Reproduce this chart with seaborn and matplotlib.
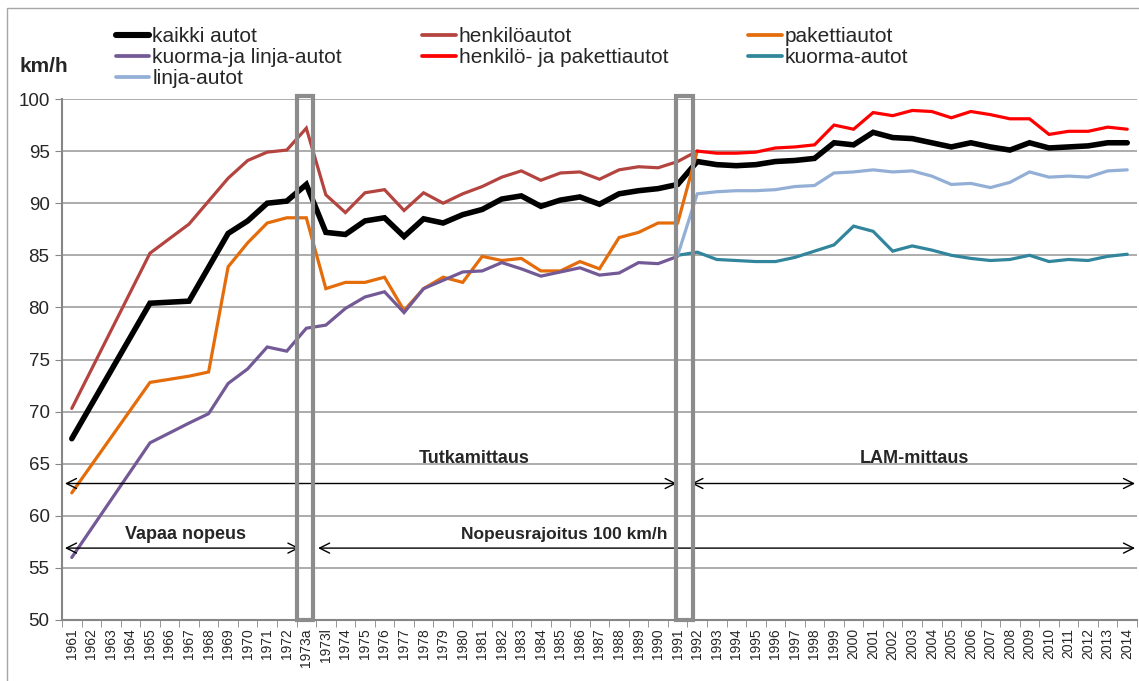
import numpy as np
import pandas as pd
import matplotlib
matplotlib.use("Agg")
import matplotlib.pyplot as plt
from matplotlib.patches import Rectangle
from matplotlib.lines import Line2D
import seaborn as sns

# category labels on the x axis (1973 split in two: a = before, l = after speed limit)
years = ([str(y) for y in range(1961, 1973)] + ['1973a', '1973l']
         + [str(y) for y in range(1974, 2015)])

# km/h, None = no value (line is drawn straight over the gap)
kaikki_autot = [67.4, None, None, None, 80.4, None, 80.6, None, 87.1, 88.3, 90.0, 90.2,
                91.8, 87.2, 87.0, 88.3, 88.6, 86.8, 88.5, 88.1, 88.9, 89.4, 90.4, 90.7,
                89.7, 90.3, 90.6, 89.9, 90.9, 91.2, 91.4, 91.8,
                94.0, 93.7, 93.6, 93.7, 94.0, 94.1, 94.3, 95.8, 95.6, 96.8, 96.3, 96.2,
                95.8, 95.4, 95.8, 95.4, 95.1, 95.8, 95.3, 95.4, 95.5, 95.8, 95.8]

henkiloautot = [70.3, None, None, None, 85.2, None, 88.0, None, 92.4, 94.1, 94.9, 95.1,
                97.2, 90.8, 89.1, 91.0, 91.3, 89.3, 91.0, 90.0, 90.9, 91.6, 92.5, 93.1,
                92.2, 92.9, 93.0, 92.3, 93.2, 93.5, 93.4, 94.0, 95.0] + [None] * 22

pakettiautot = [62.2, None, None, None, 72.8, None, 73.4, 73.8, 83.9, 86.2, 88.1, 88.6,
                88.6, 81.8, 82.4, 82.4, 82.9, 79.7, 81.8, 82.9, 82.4, 84.9, 84.5, 84.7,
                83.5, 83.5, 84.4, 83.7, 86.7, 87.2, 88.1, 88.1, 95.0] + [None] * 22

kuorma_ja_linja = [56.0, None, None, None, 67.0, None, 68.9, 69.8, 72.7, 74.1, 76.2, 75.8,
                   78.0, 78.3, 79.9, 81.0, 81.5, 79.5, 81.8, 82.6, 83.4, 83.5, 84.3, 83.7,
                   83.0, 83.4, 83.8, 83.1, 83.3, 84.3, 84.2, 84.9] + [None] * 23

henkilo_ja_paketti = [None] * 32 + [95.0, 94.8, 94.8, 94.9, 95.3, 95.4, 95.6, 97.5, 97.1,
                                    98.7, 98.4, 98.9, 98.8, 98.2, 98.8, 98.5, 98.1, 98.1,
                                    96.6, 96.9, 96.9, 97.3, 97.1]

kuorma_autot = [None] * 31 + [85.0, 85.3, 84.6, 84.5, 84.4, 84.4, 84.8, 85.4, 86.0, 87.8,
                              87.3, 85.4, 85.9, 85.5, 85.0, 84.7, 84.5, 84.6, 85.0, 84.4,
                              84.6, 84.5, 84.9, 85.1]

linja_autot = [None] * 31 + [85.0, 90.9, 91.1, 91.2, 91.2, 91.3, 91.6, 91.7, 92.9, 93.0,
                             93.2, 93.0, 93.1, 92.6, 91.8, 91.9, 91.5, 92.0, 93.0, 92.5,
                             92.6, 92.5, 93.1, 93.2]

series = {
    'kaikki autot': kaikki_autot,
    'henkilöautot': henkiloautot,
    'pakettiautot': pakettiautot,
    'kuorma-ja linja-autot': kuorma_ja_linja,
    'henkilö- ja pakettiautot': henkilo_ja_paketti,
    'kuorma-autot': kuorma_autot,
    'linja-autot': linja_autot,
}
colors = {
    'kaikki autot': '#000000',
    'henkilöautot': '#B4443F',
    'pakettiautot': '#E46C0A',
    'kuorma-ja linja-autot': '#735A96',
    'henkilö- ja pakettiautot': '#FF0000',
    'kuorma-autot': '#31859C',
    'linja-autot': '#93AFD6',
}
widths = {k: 2.3 for k in series}
widths['kaikki autot'] = 4.0

sns.set_style('white')
plt.rcParams['font.family'] = ['Liberation Sans', 'DejaVu Sans']

fig = plt.figure(figsize=(11.39, 6.81), dpi=100)
W, H = 1139, 681
ax = fig.add_axes([62 / W, 1 - 620 / H, (1137 - 62) / W, (620 - 99) / H])

pos = np.arange(len(years))
frames = []
for name, vals in series.items():
    frames.append(pd.DataFrame({'pos': pos, 'kmh': pd.to_numeric(pd.Series(vals), errors='coerce'),
                                'sarja': name}))
df = pd.concat(frames).dropna()

for name in series:
    sub = df[df['sarja'] == name]
    sns.lineplot(data=sub, x='pos', y='kmh', color=colors[name], lw=widths[name],
                 ax=ax, legend=False, solid_joinstyle='miter', zorder=3)

ax.set_xlim(-0.5, len(years) - 0.5)
ax.set_ylim(50, 100)
ax.set_yticks(np.arange(50, 101, 5))
ax.tick_params(axis='y', labelsize=13.5, length=5, color='#868686', direction='out', left=True, pad=4)
ax.set_xticks(pos)
ax.set_xticklabels(years, rotation=90, fontsize=10)
ax.tick_params(axis='x', which='major', length=0, pad=6)
ax.set_xticks(np.arange(-0.5, len(years), 1), minor=True)
ax.tick_params(axis='x', which='minor', length=5, color='#868686', bottom=True)
ax.set_xlabel('')
ax.set_ylabel('')
ax.yaxis.grid(True, color='#A6A6A6', lw=1.3)
ax.xaxis.grid(False)
for s in ['top', 'right']:
    ax.spines[s].set_visible(False)
for s in ['left', 'bottom']:
    ax.spines[s].set_color('#868686')
    ax.spines[s].set_linewidth(1.5)

# gray frames marking the breaks in measurement method
ax.add_patch(Rectangle((11.5, 50), 0.82, 50.3, fill=False, ec='#8C8C8C', lw=3,
                       zorder=5, clip_on=False))
ax.add_patch(Rectangle((30.9, 50), 0.88, 50.3, fill=False, ec='#8C8C8C', lw=3,
                       zorder=5, clip_on=False))

arr = dict(arrowstyle='<->', color='black', lw=1, mutation_scale=18, shrinkA=0, shrinkB=0)
ax.annotate('', xy=(-0.35, 63.1), xytext=(30.95, 63.1), arrowprops=arr)
ax.annotate('', xy=(31.7, 63.1), xytext=(54.4, 63.1), arrowprops=arr)
ax.annotate('', xy=(-0.35, 56.9), xytext=(11.65, 56.9), arrowprops=arr)
ax.annotate('', xy=(12.6, 56.9), xytext=(54.4, 56.9), arrowprops=arr)
ax.text(20.6, 65.5, 'Tutkamittaus', ha='center', va='center', fontsize=13, fontweight='bold')
ax.text(43.1, 65.5, 'LAM-mittaus', ha='center', va='center', fontsize=13, fontweight='bold')
ax.text(5.8, 58.2, 'Vapaa nopeus', ha='center', va='center', fontsize=13, fontweight='bold')
ax.text(25.2, 58.2, 'Nopeusrajoitus 100 km/h', ha='center', va='center', fontsize=12.5,
        fontweight='bold')

fig.text(44 / W, 1 - 66 / H, 'km/h', ha='center', va='center', fontsize=15, fontweight='bold')

order = ['kaikki autot', 'kuorma-ja linja-autot', 'linja-autot', 'henkilöautot',
         'henkilö- ja pakettiautot', 'pakettiautot', 'kuorma-autot']
handles = [Line2D([], [], color=colors[n], lw=widths[n] + 0.4) for n in order]
fig.legend(handles, order, ncol=3, loc='upper left', bbox_to_anchor=(116 / W, 1 - 27 / H),
           frameon=False, fontsize=15, handlelength=1.6, handletextpad=0.15,
           columnspacing=3.85, labelspacing=0.1, borderaxespad=0, borderpad=0)

fig.patches.append(Rectangle((7 / W, -0.05), 1.1, 1 - 8 / H + 0.05, transform=fig.transFigure,
                             fill=False, ec='#A6A6A6', lw=1))

fig.savefig('out.png', dpi=100)
